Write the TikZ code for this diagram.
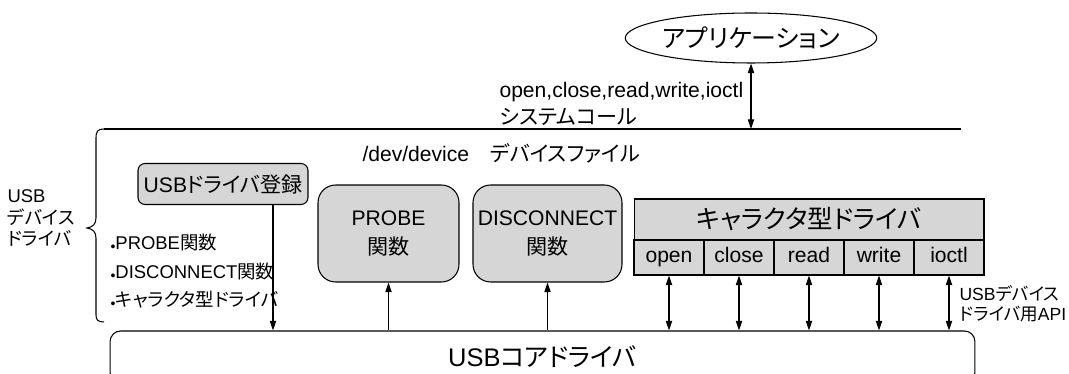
\documentclass[tikz,border=0pt]{standalone}
\usepackage{fontspec}
\setmainfont{Liberation Sans}
\newfontfamily\jp[RawFeature=+palt]{Noto Sans CJK JP}
\usetikzlibrary{shapes.geometric,arrows.meta}
\definecolor{boxgray}{gray}{0.84}

\tikzset{
  every node/.style={font=\fontsize{12}{14}\selectfont, inner sep=0pt},
  small/.style={font=\fontsize{10.5}{12}\selectfont},
  big/.style={font=\fontsize{14.5}{17}\selectfont},
  app/.style={draw, ellipse, minimum width=3.56cm, minimum height=1.0cm, font=\fontsize{14.2}{16}\selectfont},
  regbox/.style={draw, fill=boxgray, rounded corners=4pt, minimum width=3.4cm, minimum height=0.82cm},
  funcbox/.style={draw, fill=boxgray, rounded corners=10pt, minimum height=1.94cm, align=center},
  chdr/.style={draw, fill=boxgray, minimum width=7cm, minimum height=0.82cm, big},
  cell/.style={draw, fill=boxgray, minimum width=1.4cm, minimum height=0.7cm, text height=8.6pt, text depth=2.6pt},
  core/.style={draw, rounded corners=6pt, minimum width=17.3cm, minimum height=1.04cm, big},
}
\newcommand\bul{\raisebox{-0.15ex}{\footnotesize\textbullet}}

\begin{document}
\begin{tikzpicture}[x=0.02cm, y=-0.02cm, line width=0.6pt,
  >={Triangle[length=5.5pt,width=3.6pt]}]
\clip (0,0) rectangle (1069,374);

% application and system call boundary
\node[app] (app) at (751,38) {\jp アプリケーション};
\coordinate (sysL) at (104,129);
\coordinate (sysR) at (961,129);
\draw (sysL) -- (sysR);
\draw[<->] (app.south) -- (app.south |- sysL);
\node[anchor=west] (calls) at (499,92) {open,close,read,write,ioctl};
\node[anchor=west] (syscall) at (499,117) {\jp システムコール};
\node[anchor=west] (devfile) at (362,153) {/dev/device\quad{\jp デバイスファイル}};

% brace round the device driver
\draw (sysL) .. controls (98,129) and (96,131) .. (96,138) -- (96,218)
  .. controls (96,224) and (93,227) .. (87,228)
  .. controls (93,229) and (96,232) .. (96,238) -- (96,315)
  .. controls (96,320) and (98,322) .. (104,322);
\node[small, anchor=west, align=left] (usbdd) at (7,218) {USB\\{\jp デバイス}\\{\jp ドライバ}};

\node[small, anchor=west] (b1) at (110,243) {\bul PROBE{\jp 関数}};
\node[small, anchor=west] (b2) at (110,272) {\bul DISCONNECT{\jp 関数}};
\node[small, anchor=west] (b3) at (110,300) {\bul{\jp キャラクタ型ドライバ}};

% driver parts
\node[regbox] (reg) at (223,184) {USB{\jp ドライバ登録}};
\node[funcbox, minimum width=2.82cm] (probe) at (388.5,233.5) {PROBE\\[2pt]{\jp 関数}};
\node[funcbox, minimum width=2.98cm] (disc) at (547.5,233.5) {DISCONNECT\\[2pt]{\jp 関数}};
\node[chdr] (chr) at (809,219.5) {\jp キャラクタ型ドライバ};

% core
\node[core] (core) at (542.5,357) {USB{\jp コアドライバ}};

\draw[->] (reg.south -| 273,0) -- (273,0 |- core.north);
\draw[->] (core.north -| probe) -- (probe);
\draw[->] (core.north -| disc) -- (disc);

\foreach \op [count=\i] in {open,close,read,write,ioctl}{
  \node[cell] (\op) at (599+70*\i,257.5) {\op};
  \draw[<->] (\op.south) -- (\op.south |- core.north);
}

\node[small, font=\fontsize{10}{11.5}\selectfont, anchor=west, align=left] (api) at (959,304) {USB{\jp デバイス}\\{\jp ドライバ用}API};
\end{tikzpicture}
\end{document}
